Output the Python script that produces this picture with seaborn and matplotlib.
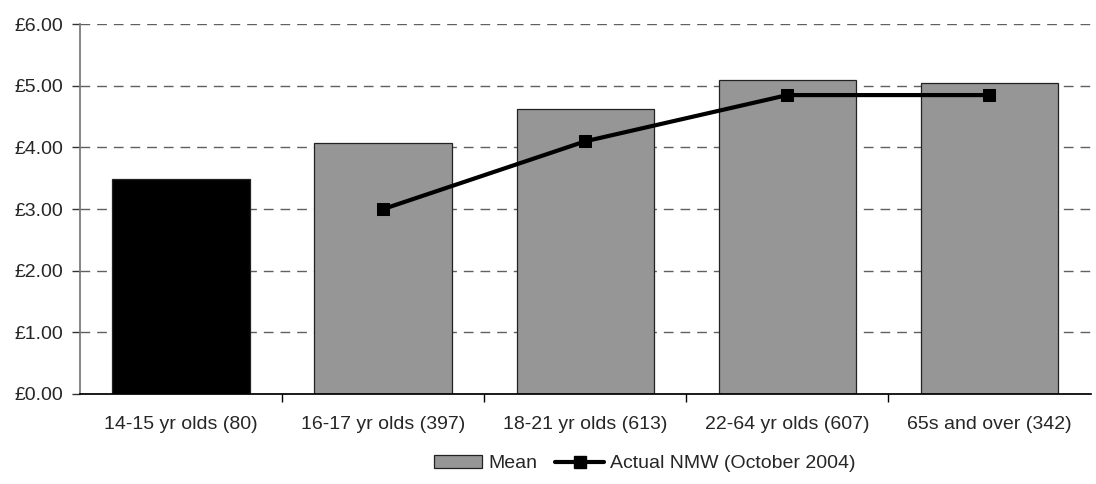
import numpy as np
import pandas as pd
import matplotlib
matplotlib.use("Agg")
import matplotlib.pyplot as plt
from matplotlib.patches import Patch
from matplotlib.lines import Line2D
from matplotlib.ticker import FixedLocator, FuncFormatter
import seaborn as sns

categories = ["14-15 yr olds (80)", "16-17 yr olds (397)", "18-21 yr olds (613)",
              "22-64 yr olds (607)", "65s and over (342)"]
mean_pay = [3.49, 4.08, 4.62, 5.09, 5.04]
nmw_rate = [np.nan, 3.00, 4.10, 4.85, 4.85]
bar_colors = ["#000000", "#969696", "#969696", "#969696", "#969696"]

sns.set_theme(style="white")
plt.rcParams["font.family"] = ["Liberation Sans", "DejaVu Sans"]

df = pd.DataFrame({"group": categories, "mean": mean_pay, "nmw": nmw_rate})

fig = plt.figure(figsize=(10.96, 4.84), dpi=100)
ax = fig.add_axes([0.073, 0.186, 0.922, 0.764])

sns.barplot(data=df, x="group", y="mean", hue="group", palette=bar_colors,
            width=0.68, edgecolor="#222222", linewidth=0.9, legend=False,
            ax=ax, zorder=2)

sns.lineplot(x=np.arange(len(categories)), y=df["nmw"], color="black",
             linewidth=3, marker="s", markersize=9, markeredgecolor="black",
             ax=ax, zorder=3)

ax.set_ylim(0, 6)
ax.set_xlim(-0.5, len(categories) - 0.5)
ax.set_yticks(np.arange(0, 7, 1))
ax.yaxis.set_major_formatter(FuncFormatter(lambda v, _: f"£{v:.2f}"))
ax.yaxis.grid(True, linestyle=(0, (7, 5)), color="#606060", linewidth=1)
ax.set_axisbelow(True)
ax.set_xlabel("")
ax.set_ylabel("")

for side in ["top", "right"]:
    ax.spines[side].set_visible(False)
ax.spines["left"].set_color("#777777")
ax.spines["bottom"].set_color("#000000")

ax.tick_params(axis="y", which="major", left=True, length=6, width=1,
               color="#333333", labelsize=14, pad=6)
ax.tick_params(axis="x", which="major", bottom=False, labelsize=14, pad=10)
ax.xaxis.set_minor_locator(FixedLocator(np.arange(0.5, len(categories) - 0.5, 1)))
ax.tick_params(axis="x", which="minor", bottom=True, length=6, width=1, color="#000000")

handles = [
    Patch(facecolor="#969696", edgecolor="#222222", linewidth=0.9, label="Mean"),
    Line2D([0], [0], color="black", linewidth=3, marker="s", markersize=9,
           label="Actual NMW (October 2004)"),
]
fig.legend(handles=handles, loc="lower center", bbox_to_anchor=(0.588, -0.012),
           ncol=2, frameon=False, fontsize=14, handlelength=2.5,
           handletextpad=0.3, columnspacing=0.95)

fig.savefig("out.png", dpi=100)
